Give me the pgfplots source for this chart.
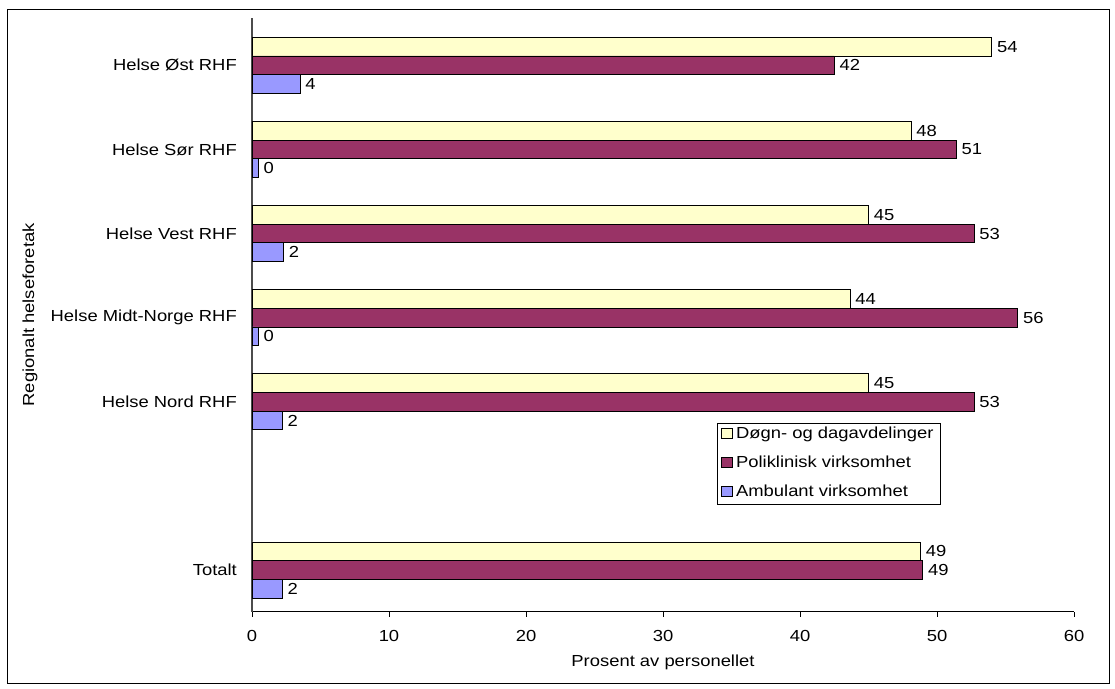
\documentclass[border=0pt]{standalone}
\usepackage{pgfplots}
\usepackage{pgfplotstable}
\pgfplotsset{compat=1.18}
\usepackage{fontspec}
\setmainfont[FakeStretch=1.15]{Liberation Sans}
\newcommand\fs{\fontsize{16}{18}\selectfont}
\definecolor{cyel}{HTML}{FFFFCC}
\definecolor{cmar}{HTML}{993366}
\definecolor{cblu}{HTML}{9999FF}

\pgfplotstableread{
y x lab
0 54.0 54
1 48.1 48
2 45.0 45
3 43.65 44
4 45.0 45
6 48.8 49
}\dogn
\pgfplotstableread{
y x lab
0 42.5 42
1 51.4 51
2 52.7 53
3 55.9 56
4 52.7 53
6 48.95 49
}\polik
\pgfplotstableread{
y x lab
0 3.5 4
1 0.46 0
2 2.3 2
3 0.46 0
4 2.2 2
6 2.2 2
}\ambul

\begin{document}
\begin{tikzpicture}[x=1pt,y=1pt]
\useasboundingbox (0,0) rectangle (1115,688);
\draw[line width=0.8pt] (7,679) rectangle (1109,5);
\begin{axis}[
  at={(252pt,76.3pt)}, anchor=south west,
  scale only axis, width=822pt, height=593.7pt,
  xbar, bar width=18.7pt,
  xmin=0, xmax=60, xtick={0,10,...,60},
  ymin=-0.562, ymax=6.496, y dir=reverse,
  ytick={0,1,2,3,4,6},
  yticklabels={Helse Øst RHF, Helse Sør RHF, Helse Vest RHF, Helse Midt-Norge RHF, Helse Nord RHF, Totalt},
  axis x line=bottom, axis y line=left,
  x axis line style={-, line width=0.9pt, black},
  y axis line style={-, line width=1.3pt, black!70},
  tick align=outside, major tick length=5pt,
  ytick style={draw=none},
  xtick style={black, line width=0.8pt},
  tick label style={font=\fs},
  /pgf/number format/assume math mode=true,
  xticklabel style={yshift=-10pt},
  yticklabel style={inner xsep=0pt, xshift=-10pt},
  every axis x label/.style={at={(axis description cs:0.5,0)}, anchor=center, yshift=-50.3pt, font=\fs},
  every axis y label/.style={at={(axis description cs:0,0.5)}, xshift=-222pt, rotate=90, anchor=center, font=\fs},
  xlabel={Prosent av personellet},
  ylabel={Regionalt helseforetak},
  point meta=explicit symbolic,
  nodes near coords,
  every node near coord/.append style={anchor=west, font=\fs, text=black, inner xsep=0pt, xshift=5pt},
  legend image code/.code={\draw[#1, draw=black, line width=0.7pt] (0pt,-3.5pt) rectangle (11pt,7pt);},
  legend cell align=left,
  legend style={at={(axis description cs:0.5657,0.3178)}, anchor=north west, draw=black, line width=0.8pt, font=\fs,
    inner xsep=4pt, inner ysep=4pt, row sep=14pt, column sep=0pt,
    nodes={inner ysep=0pt, inner xsep=3pt, text height=11.5pt, text depth=3.5pt}},
]
\addplot[draw=black, line width=0.8pt, fill=cyel, bar shift=18.7pt] table[x=x, y=y, meta=lab] {\dogn};
\addplot[draw=black, line width=0.8pt, fill=cmar, bar shift=0pt] table[x=x, y=y, meta=lab] {\polik};
\addplot[draw=black, line width=0.8pt, fill=cblu, bar shift=-18.7pt] table[x=x, y=y, meta=lab] {\ambul};
\legend{Døgn- og dagavdelinger, Poliklinisk virksomhet, Ambulant virksomhet}
\end{axis}
\end{tikzpicture}
\end{document}
